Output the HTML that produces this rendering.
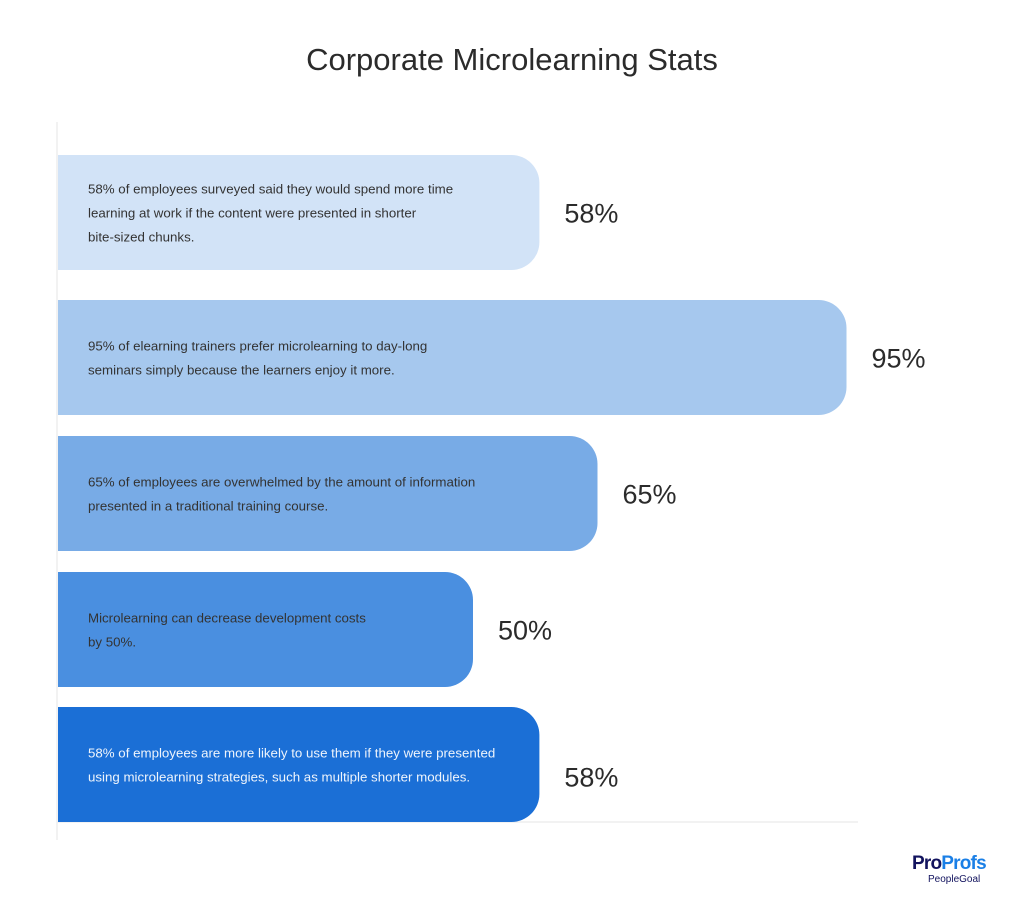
<!DOCTYPE html>
<html><head><meta charset="utf-8"><style>
body{margin:0;background:#fff;width:1024px;height:900px;overflow:hidden;font-family:"Liberation Sans",sans-serif}
svg{display:block}
</style></head><body>
<svg id="chart" width="1024" height="900">
<text x="512" y="70" text-anchor="middle" font-size="31" fill="#2b2b2b">Corporate Microlearning Stats</text>
<line x1="57" y1="122" x2="57" y2="840" stroke="#eeeeee" stroke-width="1.5"/>
<line x1="57" y1="822" x2="858" y2="822" stroke="#eeeeee" stroke-width="1.5"/>
<g id="bars"></g>
<text x="912" y="869" font-size="19" font-weight="bold" fill="#12135e" letter-spacing="-0.8">Pro<tspan fill="#1a7fe6">Profs</tspan></text>
<text x="928" y="882" font-size="10" fill="#12135e">PeopleGoal</text>
</svg>
<script>
const categories=["stat-1","stat-2","stat-3","stat-4","stat-5"];
const values=[58,95,65,50,58];
const valueLabels=["58%","95%","65%","50%","58%"];
const descriptions=[
["58% of employees surveyed said they would spend more time","learning at work if the content were presented in shorter","bite-sized chunks."],
["95% of elearning trainers prefer microlearning to day-long","seminars simply because the learners enjoy it more."],
["65% of employees are overwhelmed by the amount of information","presented in a traditional training course."],
["Microlearning can decrease development costs","by 50%."],
["58% of employees are more likely to use them if they were presented","using microlearning strategies, such as multiple shorter modules."]
];
const colors=["#d2e3f7","#a6c8ee","#78abe6","#4a8fe0","#1b6fd6"];
const x0=58,pxPer=8.3,bh=115,r=28;
const xs=v=>v*pxPer;
const rowTops=[155,300,436,572,707];
const NS="http://www.w3.org/2000/svg";
const g=document.getElementById('bars');
categories.forEach((c,i)=>{
  const y=rowTops[i];
  const w=xs(values[i]);
  const p=document.createElementNS(NS,'path');
  p.setAttribute('d',`M${x0},${y}H${x0+w-r}A${r},${r} 0 0 1 ${x0+w},${y+r}V${y+bh-r}A${r},${r} 0 0 1 ${x0+w-r},${y+bh}H${x0}Z`);
  p.setAttribute('fill',colors[i]);
  
  
  g.appendChild(p);
  const lines=descriptions[i];
  const startY=y+bh/2-(lines.length-1)*12+5;
  lines.forEach((l,j)=>{
    const t=document.createElementNS(NS,'text');
    t.setAttribute('x',x0+30);t.setAttribute('y',startY+j*24);
    t.setAttribute('font-size','13.3');
    t.setAttribute('fill',i===4?'#eef4fc':'#333333');
    t.textContent=l;
    
    
    g.appendChild(t);
  });
  const v=document.createElementNS(NS,'text');
  v.setAttribute('x',x0+w+25);v.setAttribute('y',y+bh/2+10+(i===4?12:0));
  v.setAttribute('font-size','27');v.setAttribute('fill','#2b2b2b');
  v.textContent=valueLabels[i];
  
  
  g.appendChild(v);
});
</script>
</body></html>
